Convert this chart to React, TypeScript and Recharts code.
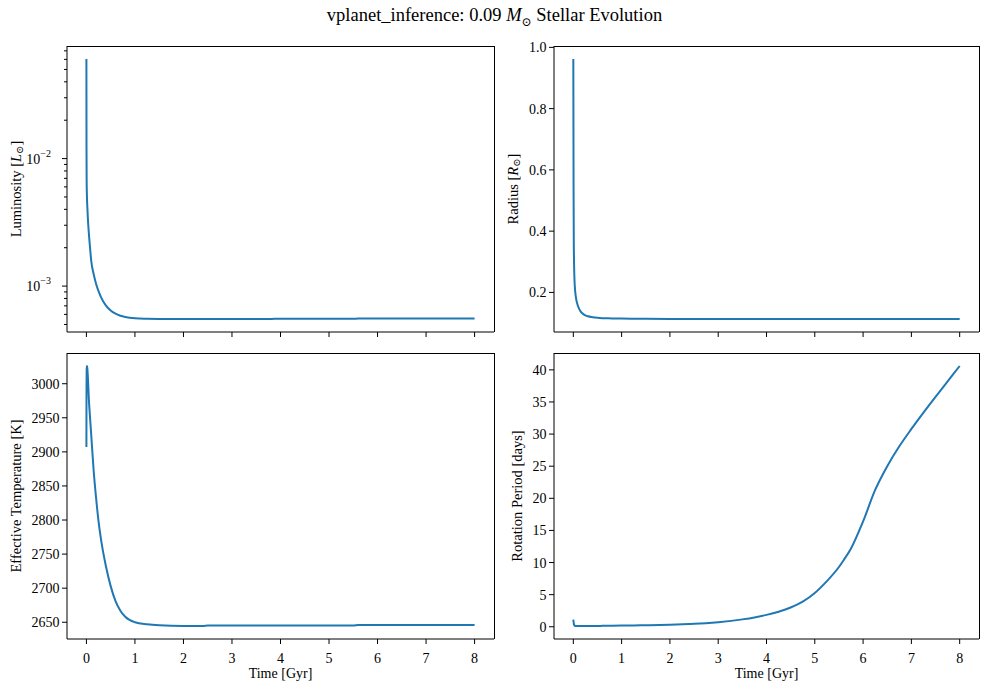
import React from 'react'
import { LineChart, Line, XAxis, YAxis, Label } from 'recharts'

// time in Gyr, dense near t = 0 where the star contracts fast
const time = [
  0, 0.002, 0.005, 0.01, 0.02, 0.03, 0.05, 0.075, 0.1, 0.15, 0.2, 0.25, 0.3, 0.4,
  0.5, 0.6, 0.7, 0.8, 1.0, 1.25, 1.5, 2, 2.4, 2.5, 3, 3.5, 3.75, 4, 4.25, 4.5,
  4.75, 5, 5.25, 5.5, 5.6, 5.75, 6, 6.25, 6.5, 6.75, 7, 7.25, 7.5, 7.75, 8,
]

const luminosity = [
  0.0604, 0.012, 0.0068, 0.0052, 0.0041, 0.0034, 0.0026, 0.002, 0.00157, 0.00124,
  0.00104, 0.000912, 0.00082, 0.000706, 0.000643, 0.000607, 0.000586, 0.000573,
  0.00056, 0.000555, 0.000553, 0.000552, 0.000552, 0.000552, 0.000553, 0.000553,
  0.000553, 0.000554, 0.000554, 0.000554, 0.000554, 0.000555, 0.000555, 0.000555,
  0.000556, 0.000556, 0.000556, 0.000556, 0.000557, 0.000557, 0.000557, 0.000557,
  0.000558, 0.000558, 0.000558,
]

const radius = [
  0.962, 0.8, 0.55, 0.36, 0.262, 0.222, 0.188, 0.167, 0.154, 0.138, 0.13, 0.125,
  0.122, 0.119, 0.117, 0.116, 0.1155, 0.115, 0.1145, 0.114, 0.1138, 0.1135, 0.1134,
  0.1134, 0.1133, 0.1133, 0.1133, 0.1132, 0.1132, 0.1132, 0.1132, 0.1132, 0.1132,
  0.1132, 0.1132, 0.1132, 0.1132, 0.1132, 0.1132, 0.1132, 0.1132, 0.1132, 0.1132,
  0.1132, 0.1132,
]

const effTemp = [
  2907, 2990, 3020, 3026, 3022, 3010, 2978, 2950, 2924, 2872, 2832, 2798, 2772,
  2733, 2703, 2681, 2667, 2658, 2650, 2647, 2645.5, 2644.5, 2644.5, 2645.3, 2645.3,
  2645.3, 2645.3, 2645.3, 2645.3, 2645.3, 2645.3, 2645.3, 2645.3, 2645.3, 2646,
  2646, 2646, 2646, 2646, 2646, 2646, 2646, 2646, 2646, 2646,
]

const rotPeriod = [
  1.1, 1.0, 0.8, 0.5, 0.25, 0.16, 0.13, 0.12, 0.12, 0.12, 0.12, 0.12, 0.12, 0.13,
  0.13, 0.14, 0.15, 0.16, 0.18, 0.21, 0.24, 0.33, 0.43, 0.46, 0.72, 1.15, 1.45,
  1.85, 2.35, 3.0, 3.9, 5.25, 7.1, 9.3, 10.4, 12.2, 16.4, 21.3, 25.0, 28.1, 30.8,
  33.35, 35.8, 38.2, 40.6,
]

const timeTicks = [0, 1, 2, 3, 4, 5, 6, 7, 8]
const lumTicks = [
  0.0005, 0.0006, 0.0007, 0.0008, 0.0009, 0.001, 0.002, 0.003, 0.004, 0.005, 0.006,
  0.007, 0.008, 0.009, 0.01, 0.02, 0.03, 0.04, 0.05, 0.06, 0.07,
]
const radiusTicks = [0.2, 0.4, 0.6, 0.8, 1.0]
const tempTicks = [2650, 2700, 2750, 2800, 2850, 2900, 2950, 3000]
const rotTicks = [0, 5, 10, 15, 20, 25, 30, 35, 40]

const rows = time.map((t, i) => ({
  t,
  lum: luminosity[i],
  rad: radius[i],
  teff: effTemp[i],
  prot: rotPeriod[i],
}))

const FONT = '"Liberation Serif", "DejaVu Serif", serif'
const BLUE = '#1f77b4'
const FS = 14

// matplotlib-style 5% margins
const linPad = (v: number[]): [number, number] => {
  const lo = Math.min(...v)
  const hi = Math.max(...v)
  const p = (hi - lo) * 0.05
  return [lo - p, hi + p]
}
const logPad = (v: number[]): [number, number] => {
  const lo = Math.log10(Math.min(...v))
  const hi = Math.log10(Math.max(...v))
  const p = (hi - lo) * 0.05
  return [Math.pow(10, lo - p), Math.pow(10, hi + p)]
}
const xDomain = linPad(time)

const isMajorLog = (v: number) => Math.abs(Math.log10(v) - Math.round(Math.log10(v))) < 1e-6

function XTick(props: any) {
  const { x, y, payload, showLabel } = props
  return (
    <g>
      <line x1={x} x2={x} y1={y} y2={y + 5} stroke="#000" strokeWidth={1} />
      {showLabel && (
        <text x={x} y={y + 24} textAnchor="middle" fontSize={FS} fontFamily={FONT} fill="#000">
          {payload.value}
        </text>
      )}
    </g>
  )
}

function YTick(props: any) {
  const { x, y, payload, kind } = props
  const v = payload.value as number
  if (kind === 'log') {
    const major = isMajorLog(v)
    return (
      <g>
        <line x1={x - (major ? 5 : 3)} x2={x} y1={y} y2={y} stroke="#000" strokeWidth={1} />
        {major && (
          <text x={x - 16} y={y + 5} textAnchor="end" fontSize={FS} fontFamily={FONT} fill="#000">
            10<tspan fontSize={10} dy={-7}>{'\u2212' + Math.abs(Math.round(Math.log10(v)))}</tspan>
          </text>
        )}
      </g>
    )
  }
  const label = kind === 'radius' ? v.toFixed(1) : String(v)
  return (
    <g>
      <line x1={x - 5} x2={x} y1={y} y2={y} stroke="#000" strokeWidth={1} />
      <text x={x - 7.5} y={y + 5} textAnchor="end" fontSize={FS} fontFamily={FONT} fill="#000">
        {label}
      </text>
    </g>
  )
}

type PanelProps = {
  left: number
  top: number
  width: number
  height: number
  marginTop: number
  yAxisWidth: number
  xAxisHeight: number
  dataKey: string
  domain: [number, number]
  ticks: number[]
  kind: 'log' | 'radius' | 'int'
  yLabel: React.ReactNode
  yLabelX: number
  bottomRow: boolean
}

const MARGIN_RIGHT = 6

function Panel(p: PanelProps) {
  const plotW = p.width - p.yAxisWidth - MARGIN_RIGHT
  const plotH = p.height - p.marginTop - p.xAxisHeight
  return (
    <div style={{ position: 'absolute', left: p.left, top: p.top }}>
      <LineChart
        width={p.width}
        height={p.height}
        data={rows}
        margin={{ top: p.marginTop, right: MARGIN_RIGHT, bottom: 0, left: 0 }}
      >
        <XAxis
          dataKey="t"
          type="number"
          domain={xDomain}
          ticks={timeTicks}
          allowDataOverflow
          interval={0}
          height={p.xAxisHeight}
          stroke="#000"
          tickSize={0}
          tickMargin={0}
          tickLine={false}
          tick={(t: any) => <XTick {...t} showLabel={p.bottomRow} />}
        >
          {p.bottomRow && (
            <Label
              content={(lp: any) => {
                const vb = lp.viewBox || {}
                return (
                  <text
                    x={vb.x + vb.width / 2}
                    y={vb.y + 39}
                    textAnchor="middle"
                    fontSize={FS}
                    fontFamily={FONT}
                    fill="#000"
                  >
                    Time [Gyr]
                  </text>
                )
              }}
            />
          )}
        </XAxis>
        <YAxis
          type="number"
          scale={p.kind === 'log' ? 'log' : 'auto'}
          domain={p.domain}
          ticks={p.ticks}
          allowDataOverflow
          interval={0}
          width={p.yAxisWidth}
          stroke="#000"
          tickSize={0}
          tickMargin={0}
          tickLine={false}
          tick={(t: any) => <YTick {...t} kind={p.kind} />}
        >
          <Label
            content={(lp: any) => {
              const vb = lp.viewBox || {}
              const cy = vb.y + vb.height / 2
              return (
                <text
                  x={p.yLabelX}
                  y={cy}
                  transform={`rotate(-90 ${p.yLabelX} ${cy})`}
                  textAnchor="middle"
                  dominantBaseline="central"
                  fontSize={14.5}
                  fontFamily={FONT}
                  fill="#000"
                >
                  {p.yLabel}
                </text>
              )
            }}
          />
        </YAxis>
        <Line
          type="monotone"
          dataKey={p.dataKey}
          stroke={BLUE}
          strokeWidth={2}
          dot={false}
          isAnimationActive={false}
        />
      </LineChart>
      {/* top and right spines */}
      <div
        style={{
          position: 'absolute',
          left: p.yAxisWidth,
          top: p.marginTop - 0.5,
          width: plotW + 0.5,
          height: plotH + 0.5,
          borderTop: '1px solid #000',
          borderRight: '1px solid #000',
          boxSizing: 'border-box',
          pointerEvents: 'none',
        }}
      />
    </div>
  )
}

const sun = '\u2299'

export default function App() {
  return (
    <div
      style={{
        position: 'absolute',
        left: 0,
        top: 0,
        width: 989,
        height: 691,
        background: '#fff',
        fontFamily: FONT,
      }}
    >
      <div
        style={{
          position: 'absolute',
          left: 0,
          top: 5,
          width: 989,
          textAlign: 'center',
          fontSize: 18.5,
          color: '#000',
        }}
      >
        vplanet_inference: 0.09 <i>M</i>
        <sub style={{ fontSize: 12 }}>{sun}</sub> Stellar Evolution
      </div>
      <Panel
        left={0}
        top={30}
        width={500}
        height={310}
        marginTop={16}
        yAxisWidth={67}
        xAxisHeight={8}
        dataKey="lum"
        domain={logPad(luminosity)}
        ticks={lumTicks}
        kind="log"
        yLabelX={16}
        bottomRow={false}
        yLabel={
          <>
            Luminosity [<tspan fontStyle="italic">L</tspan>
            <tspan fontSize={10} dy={3}>{sun}</tspan>
            <tspan dy={-3}>]</tspan>
          </>
        }
      />
      <Panel
        left={490}
        top={30}
        width={495}
        height={310}
        marginTop={16}
        yAxisWidth={64}
        xAxisHeight={8}
        dataKey="rad"
        domain={linPad(radius)}
        ticks={radiusTicks}
        kind="radius"
        yLabelX={23}
        bottomRow={false}
        yLabel={
          <>
            Radius [<tspan fontStyle="italic">R</tspan>
            <tspan fontSize={10} dy={3}>{sun}</tspan>
            <tspan dy={-3}>]</tspan>
          </>
        }
      />
      <Panel
        left={0}
        top={340}
        width={500}
        height={351}
        marginTop={13}
        yAxisWidth={67}
        xAxisHeight={52}
        dataKey="teff"
        domain={linPad(effTemp)}
        ticks={tempTicks}
        kind="int"
        yLabelX={16}
        bottomRow
        yLabel="Effective Temperature [K]"
      />
      <Panel
        left={490}
        top={340}
        width={495}
        height={351}
        marginTop={13}
        yAxisWidth={64}
        xAxisHeight={52}
        dataKey="prot"
        domain={linPad(rotPeriod)}
        ticks={rotTicks}
        kind="int"
        yLabelX={27}
        bottomRow
        yLabel="Rotation Period [days]"
      />
    </div>
  )
}
